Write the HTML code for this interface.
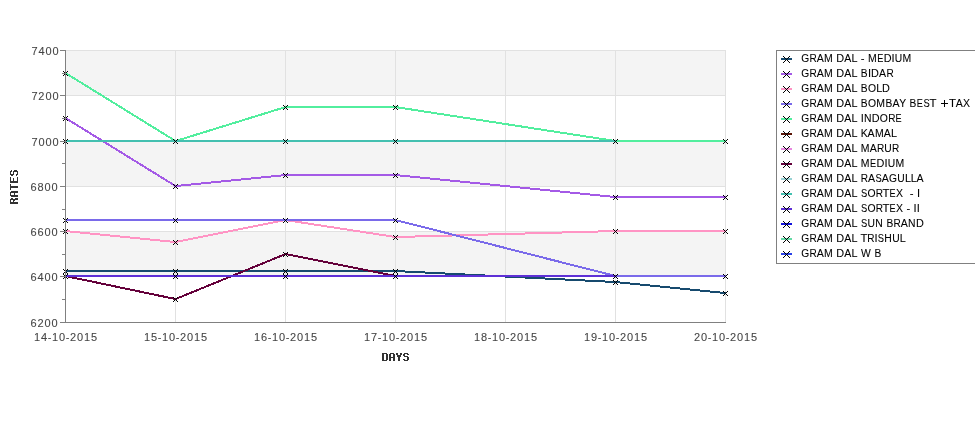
<!DOCTYPE html><html><head><meta charset="utf-8"><style>html,body{margin:0;padding:0;background:#fff;width:975px;height:429px;overflow:hidden}svg{display:block;will-change:transform}</style></head><body>
<svg width="975" height="429" viewBox="0 0 975 429">
<rect x="0" y="0" width="975" height="429" fill="#ffffff"/>
<rect x="66" y="51" width="660" height="44" fill="#f4f4f4" shape-rendering="crispEdges"/>
<rect x="66" y="142" width="660" height="44" fill="#f4f4f4" shape-rendering="crispEdges"/>
<rect x="66" y="232" width="660" height="44" fill="#f4f4f4" shape-rendering="crispEdges"/>
<rect x="66" y="50" width="660" height="1" fill="#e1e1e1" shape-rendering="crispEdges"/>
<rect x="66" y="95" width="660" height="1" fill="#e1e1e1" shape-rendering="crispEdges"/>
<rect x="66" y="141" width="660" height="1" fill="#e1e1e1" shape-rendering="crispEdges"/>
<rect x="66" y="186" width="660" height="1" fill="#e1e1e1" shape-rendering="crispEdges"/>
<rect x="66" y="231" width="660" height="1" fill="#e1e1e1" shape-rendering="crispEdges"/>
<rect x="66" y="276" width="660" height="1" fill="#e1e1e1" shape-rendering="crispEdges"/>
<rect x="175" y="50" width="1" height="272" fill="#e1e1e1" shape-rendering="crispEdges"/>
<rect x="285" y="50" width="1" height="272" fill="#e1e1e1" shape-rendering="crispEdges"/>
<rect x="395" y="50" width="1" height="272" fill="#e1e1e1" shape-rendering="crispEdges"/>
<rect x="505" y="50" width="1" height="272" fill="#e1e1e1" shape-rendering="crispEdges"/>
<rect x="615" y="50" width="1" height="272" fill="#e1e1e1" shape-rendering="crispEdges"/>
<rect x="725" y="50" width="1" height="272" fill="#e1e1e1" shape-rendering="crispEdges"/>
<g fill="none" stroke-width="2" shape-rendering="crispEdges" stroke-linecap="butt" stroke-linejoin="miter" transform="translate(0.52,0.04)">
<path d="M65 271 L175 271 L285 271 L395 271 L615 282 L725 293" stroke="#164a6e"/>
<path d="M65 118 L175 186 L285 175 L395 175 L615 197 L725 197" stroke="#a45ae6"/>
<path d="M65 231 L175 242 L285 220 L395 237 L615 231 L725 231" stroke="#ff94c4"/>
<path d="M65 220 L175 220 L285 220 L395 220 L615 276 L725 276" stroke="#7a6aea"/>
<path d="M65 73 L175 141 L285 107 L395 107 L615 141 L725 141" stroke="#52ee9e"/>
<path d="M65 276 L175 299 L285 254 L395 276" stroke="#5a1406"/>
<path d="M65 276 L175 299 L285 254 L395 276" stroke="#64003a"/>
<path d="M65 141 L175 141 L285 141 L395 141 L615 141" stroke="#44c0b0"/>
<path d="M65 276 L175 276 L285 276 L395 276 L615 276" stroke="#5e30d6"/>
</g>
<g fill="none" stroke="#000" stroke-width="1" shape-rendering="crispEdges">
<path d="M63 269.0 L68 274.0 M63 274.0 L68 269.0 M173 269.0 L178 274.0 M173 274.0 L178 269.0 M283 269.0 L288 274.0 M283 274.0 L288 269.0 M393 269.0 L398 274.0 M393 274.0 L398 269.0 M613 280.0 L618 285.0 M613 285.0 L618 280.0 M723 291.0 L728 296.0 M723 296.0 L728 291.0 M63 116.0 L68 121.0 M63 121.0 L68 116.0 M173 184.0 L178 189.0 M173 189.0 L178 184.0 M283 173.0 L288 178.0 M283 178.0 L288 173.0 M393 173.0 L398 178.0 M393 178.0 L398 173.0 M613 195.0 L618 200.0 M613 200.0 L618 195.0 M723 195.0 L728 200.0 M723 200.0 L728 195.0 M63 229.0 L68 234.0 M63 234.0 L68 229.0 M173 240.0 L178 245.0 M173 245.0 L178 240.0 M283 218.0 L288 223.0 M283 223.0 L288 218.0 M393 235.0 L398 240.0 M393 240.0 L398 235.0 M613 229.0 L618 234.0 M613 234.0 L618 229.0 M723 229.0 L728 234.0 M723 234.0 L728 229.0 M63 218.0 L68 223.0 M63 223.0 L68 218.0 M173 218.0 L178 223.0 M173 223.0 L178 218.0 M283 218.0 L288 223.0 M283 223.0 L288 218.0 M393 218.0 L398 223.0 M393 223.0 L398 218.0 M613 274.0 L618 279.0 M613 279.0 L618 274.0 M723 274.0 L728 279.0 M723 279.0 L728 274.0 M63 71.0 L68 76.0 M63 76.0 L68 71.0 M173 139.0 L178 144.0 M173 144.0 L178 139.0 M283 105.0 L288 110.0 M283 110.0 L288 105.0 M393 105.0 L398 110.0 M393 110.0 L398 105.0 M613 139.0 L618 144.0 M613 144.0 L618 139.0 M723 139.0 L728 144.0 M723 144.0 L728 139.0 M63 274.0 L68 279.0 M63 279.0 L68 274.0 M173 297.0 L178 302.0 M173 302.0 L178 297.0 M283 252.0 L288 257.0 M283 257.0 L288 252.0 M393 274.0 L398 279.0 M393 279.0 L398 274.0 M63 274.0 L68 279.0 M63 279.0 L68 274.0 M173 297.0 L178 302.0 M173 302.0 L178 297.0 M283 252.0 L288 257.0 M283 257.0 L288 252.0 M393 274.0 L398 279.0 M393 279.0 L398 274.0 M63 139.0 L68 144.0 M63 144.0 L68 139.0 M173 139.0 L178 144.0 M173 144.0 L178 139.0 M283 139.0 L288 144.0 M283 144.0 L288 139.0 M393 139.0 L398 144.0 M393 144.0 L398 139.0 M613 139.0 L618 144.0 M613 144.0 L618 139.0 M63 274.0 L68 279.0 M63 279.0 L68 274.0 M173 274.0 L178 279.0 M173 279.0 L178 274.0 M283 274.0 L288 279.0 M283 279.0 L288 274.0 M393 274.0 L398 279.0 M393 279.0 L398 274.0 M613 274.0 L618 279.0 M613 279.0 L618 274.0"/>
</g>
<rect x="65" y="50" width="1" height="273" fill="#808080" shape-rendering="crispEdges"/>
<rect x="65" y="322" width="661" height="1" fill="#808080" shape-rendering="crispEdges"/>
<rect x="60" y="50" width="5" height="1" fill="#808080" shape-rendering="crispEdges"/>
<rect x="60" y="95" width="5" height="1" fill="#808080" shape-rendering="crispEdges"/>
<rect x="60" y="141" width="5" height="1" fill="#808080" shape-rendering="crispEdges"/>
<rect x="60" y="186" width="5" height="1" fill="#808080" shape-rendering="crispEdges"/>
<rect x="60" y="231" width="5" height="1" fill="#808080" shape-rendering="crispEdges"/>
<rect x="60" y="276" width="5" height="1" fill="#808080" shape-rendering="crispEdges"/>
<rect x="60" y="322" width="5" height="1" fill="#808080" shape-rendering="crispEdges"/>
<rect x="62" y="73" width="3" height="1" fill="#808080" shape-rendering="crispEdges"/>
<rect x="62" y="118" width="3" height="1" fill="#808080" shape-rendering="crispEdges"/>
<rect x="62" y="163" width="3" height="1" fill="#808080" shape-rendering="crispEdges"/>
<rect x="62" y="209" width="3" height="1" fill="#808080" shape-rendering="crispEdges"/>
<rect x="62" y="254" width="3" height="1" fill="#808080" shape-rendering="crispEdges"/>
<rect x="62" y="299" width="3" height="1" fill="#808080" shape-rendering="crispEdges"/>
<text x="31.42 38.44 45.44 52.44" y="54.5" font-family="Liberation Sans, sans-serif" font-size="11" fill="#444444" stroke="#444444" stroke-width="0.08">7400</text>
<text x="31.42 38.29 45.44 52.44" y="99.5" font-family="Liberation Sans, sans-serif" font-size="11" fill="#444444" stroke="#444444" stroke-width="0.08">7200</text>
<text x="31.42 38.44 45.44 52.44" y="145.5" font-family="Liberation Sans, sans-serif" font-size="11" fill="#444444" stroke="#444444" stroke-width="0.08">7000</text>
<text x="30.54 37.54 44.54 51.54" y="190.5" font-family="Liberation Sans, sans-serif" font-size="11" fill="#444444" stroke="#444444" stroke-width="0.08">6800</text>
<text x="30.54 37.54 44.54 51.54" y="235.5" font-family="Liberation Sans, sans-serif" font-size="11" fill="#444444" stroke="#444444" stroke-width="0.08">6600</text>
<text x="30.54 37.54 44.54 51.54" y="280.5" font-family="Liberation Sans, sans-serif" font-size="11" fill="#444444" stroke="#444444" stroke-width="0.08">6400</text>
<text x="30.54 37.39 44.54 51.54" y="326.5" font-family="Liberation Sans, sans-serif" font-size="11" fill="#444444" stroke="#444444" stroke-width="0.08">6200</text>
<text x="33.99 41.04 47.75 51.99 59.04 65.75 69.89 77.04 83.99 90.99" y="341" font-family="Liberation Sans, sans-serif" font-size="11" fill="#444444" stroke="#444444" stroke-width="0.08">14-10-2015</text>
<text x="143.99 150.99 157.75 161.99 169.04 175.75 179.89 187.04 193.99 200.99" y="341" font-family="Liberation Sans, sans-serif" font-size="11" fill="#444444" stroke="#444444" stroke-width="0.08">15-10-2015</text>
<text x="253.99 261.04 267.75 271.99 279.04 285.75 289.89 297.04 303.99 310.99" y="341" font-family="Liberation Sans, sans-serif" font-size="11" fill="#444444" stroke="#444444" stroke-width="0.08">16-10-2015</text>
<text x="363.99 371.02 377.75 381.99 389.04 395.75 399.89 407.04 413.99 420.99" y="341" font-family="Liberation Sans, sans-serif" font-size="11" fill="#444444" stroke="#444444" stroke-width="0.08">17-10-2015</text>
<text x="473.99 481.04 487.75 491.99 499.04 505.75 509.89 517.04 523.99 530.99" y="341" font-family="Liberation Sans, sans-serif" font-size="11" fill="#444444" stroke="#444444" stroke-width="0.08">18-10-2015</text>
<text x="583.99 591.0 597.75 601.99 609.04 615.75 619.89 627.04 633.99 640.99" y="341" font-family="Liberation Sans, sans-serif" font-size="11" fill="#444444" stroke="#444444" stroke-width="0.08">19-10-2015</text>
<text x="693.89 701.04 707.75 711.99 719.04 725.75 729.89 737.04 743.99 750.99" y="341" font-family="Liberation Sans, sans-serif" font-size="11" fill="#444444" stroke="#444444" stroke-width="0.08">20-10-2015</text>
<path d="M382 353h1v1h-1z M383 353h1v1h-1z M384 353h1v1h-1z M385 353h1v1h-1z M386 353h1v1h-1z M382 354h1v1h-1z M383 354h1v1h-1z M386 354h1v1h-1z M387 354h1v1h-1z M382 355h1v1h-1z M383 355h1v1h-1z M386 355h1v1h-1z M387 355h1v1h-1z M382 356h1v1h-1z M383 356h1v1h-1z M386 356h1v1h-1z M387 356h1v1h-1z M382 357h1v1h-1z M383 357h1v1h-1z M386 357h1v1h-1z M387 357h1v1h-1z M382 358h1v1h-1z M383 358h1v1h-1z M386 358h1v1h-1z M387 358h1v1h-1z M382 359h1v1h-1z M383 359h1v1h-1z M386 359h1v1h-1z M387 359h1v1h-1z M382 360h1v1h-1z M383 360h1v1h-1z M384 360h1v1h-1z M385 360h1v1h-1z M386 360h1v1h-1z M390 353h1v1h-1z M391 353h1v1h-1z M392 353h1v1h-1z M393 353h1v1h-1z M389 354h1v1h-1z M390 354h1v1h-1z M393 354h1v1h-1z M394 354h1v1h-1z M389 355h1v1h-1z M390 355h1v1h-1z M393 355h1v1h-1z M394 355h1v1h-1z M389 356h1v1h-1z M390 356h1v1h-1z M393 356h1v1h-1z M394 356h1v1h-1z M389 357h1v1h-1z M390 357h1v1h-1z M391 357h1v1h-1z M392 357h1v1h-1z M393 357h1v1h-1z M394 357h1v1h-1z M389 358h1v1h-1z M390 358h1v1h-1z M393 358h1v1h-1z M394 358h1v1h-1z M389 359h1v1h-1z M390 359h1v1h-1z M393 359h1v1h-1z M394 359h1v1h-1z M389 360h1v1h-1z M390 360h1v1h-1z M393 360h1v1h-1z M394 360h1v1h-1z M396 353h1v1h-1z M397 353h1v1h-1z M400 353h1v1h-1z M401 353h1v1h-1z M396 354h1v1h-1z M397 354h1v1h-1z M400 354h1v1h-1z M401 354h1v1h-1z M397 355h1v1h-1z M398 355h1v1h-1z M399 355h1v1h-1z M400 355h1v1h-1z M397 356h1v1h-1z M398 356h1v1h-1z M399 356h1v1h-1z M400 356h1v1h-1z M398 357h1v1h-1z M399 357h1v1h-1z M398 358h1v1h-1z M399 358h1v1h-1z M398 359h1v1h-1z M399 359h1v1h-1z M398 360h1v1h-1z M399 360h1v1h-1z M404 353h1v1h-1z M405 353h1v1h-1z M406 353h1v1h-1z M407 353h1v1h-1z M403 354h1v1h-1z M404 354h1v1h-1z M407 354h1v1h-1z M408 354h1v1h-1z M403 355h1v1h-1z M404 355h1v1h-1z M404 356h1v1h-1z M405 356h1v1h-1z M406 356h1v1h-1z M407 356h1v1h-1z M407 357h1v1h-1z M408 357h1v1h-1z M407 358h1v1h-1z M408 358h1v1h-1z M403 359h1v1h-1z M404 359h1v1h-1z M407 359h1v1h-1z M408 359h1v1h-1z M404 360h1v1h-1z M405 360h1v1h-1z M406 360h1v1h-1z M407 360h1v1h-1z" fill="#333" shape-rendering="crispEdges"/>
<path d="M10 203h1v1h-1z M10 202h1v1h-1z M10 201h1v1h-1z M10 200h1v1h-1z M10 199h1v1h-1z M11 203h1v1h-1z M11 202h1v1h-1z M11 199h1v1h-1z M11 198h1v1h-1z M12 203h1v1h-1z M12 202h1v1h-1z M12 199h1v1h-1z M12 198h1v1h-1z M13 203h1v1h-1z M13 202h1v1h-1z M13 201h1v1h-1z M13 200h1v1h-1z M13 199h1v1h-1z M14 203h1v1h-1z M14 202h1v1h-1z M14 200h1v1h-1z M14 199h1v1h-1z M15 203h1v1h-1z M15 202h1v1h-1z M15 199h1v1h-1z M15 198h1v1h-1z M16 203h1v1h-1z M16 202h1v1h-1z M16 199h1v1h-1z M16 198h1v1h-1z M17 203h1v1h-1z M17 202h1v1h-1z M17 199h1v1h-1z M17 198h1v1h-1z M10 195h1v1h-1z M10 194h1v1h-1z M10 193h1v1h-1z M10 192h1v1h-1z M11 196h1v1h-1z M11 195h1v1h-1z M11 192h1v1h-1z M11 191h1v1h-1z M12 196h1v1h-1z M12 195h1v1h-1z M12 192h1v1h-1z M12 191h1v1h-1z M13 196h1v1h-1z M13 195h1v1h-1z M13 192h1v1h-1z M13 191h1v1h-1z M14 196h1v1h-1z M14 195h1v1h-1z M14 194h1v1h-1z M14 193h1v1h-1z M14 192h1v1h-1z M14 191h1v1h-1z M15 196h1v1h-1z M15 195h1v1h-1z M15 192h1v1h-1z M15 191h1v1h-1z M16 196h1v1h-1z M16 195h1v1h-1z M16 192h1v1h-1z M16 191h1v1h-1z M17 196h1v1h-1z M17 195h1v1h-1z M17 192h1v1h-1z M17 191h1v1h-1z M10 189h1v1h-1z M10 188h1v1h-1z M10 187h1v1h-1z M10 186h1v1h-1z M10 185h1v1h-1z M10 184h1v1h-1z M11 187h1v1h-1z M11 186h1v1h-1z M12 187h1v1h-1z M12 186h1v1h-1z M13 187h1v1h-1z M13 186h1v1h-1z M14 187h1v1h-1z M14 186h1v1h-1z M15 187h1v1h-1z M15 186h1v1h-1z M16 187h1v1h-1z M16 186h1v1h-1z M17 187h1v1h-1z M17 186h1v1h-1z M10 182h1v1h-1z M10 181h1v1h-1z M10 180h1v1h-1z M10 179h1v1h-1z M10 178h1v1h-1z M10 177h1v1h-1z M11 182h1v1h-1z M11 181h1v1h-1z M12 182h1v1h-1z M12 181h1v1h-1z M13 182h1v1h-1z M13 181h1v1h-1z M13 180h1v1h-1z M13 179h1v1h-1z M13 178h1v1h-1z M14 182h1v1h-1z M14 181h1v1h-1z M15 182h1v1h-1z M15 181h1v1h-1z M16 182h1v1h-1z M16 181h1v1h-1z M17 182h1v1h-1z M17 181h1v1h-1z M17 180h1v1h-1z M17 179h1v1h-1z M17 178h1v1h-1z M17 177h1v1h-1z M10 174h1v1h-1z M10 173h1v1h-1z M10 172h1v1h-1z M10 171h1v1h-1z M11 175h1v1h-1z M11 174h1v1h-1z M11 171h1v1h-1z M11 170h1v1h-1z M12 175h1v1h-1z M12 174h1v1h-1z M13 174h1v1h-1z M13 173h1v1h-1z M13 172h1v1h-1z M13 171h1v1h-1z M14 171h1v1h-1z M14 170h1v1h-1z M15 171h1v1h-1z M15 170h1v1h-1z M16 175h1v1h-1z M16 174h1v1h-1z M16 171h1v1h-1z M16 170h1v1h-1z M17 174h1v1h-1z M17 173h1v1h-1z M17 172h1v1h-1z M17 171h1v1h-1z" fill="#333" shape-rendering="crispEdges"/>
<rect x="776.5" y="50.5" width="300" height="213" fill="#fff" stroke="#808080" stroke-width="1"/>
<rect x="781" y="58" width="11" height="2" fill="#164a6e" shape-rendering="crispEdges"/>
<path d="M783 56 L790 63 M783 63 L790 56" stroke="#000" stroke-width="1" fill="none" shape-rendering="crispEdges"/>
<g font-family="Liberation Sans, sans-serif" font-size="11" fill="#000" stroke="#000" stroke-width="0.08"><text transform="translate(801.27,62) scale(0.931,1)">G</text><text transform="translate(809.54,62) scale(0.913,1)">R</text><text transform="translate(816.69,62) scale(0.962,1)">A</text><text transform="translate(823.99,62) scale(0.952,1)">M</text><text transform="translate(836.35,62) scale(0.988,1)">D</text><text transform="translate(844.36,62) scale(0.962,1)">A</text><text transform="translate(851.62,62) scale(0.982,1)">L</text><text transform="translate(860.68,62) scale(1.029,1)">-</text><text transform="translate(867.97,62) scale(0.952,1)">M</text><text transform="translate(877.14,62) scale(0.827,1)">E</text><text transform="translate(883.63,62) scale(0.988,1)">D</text><text transform="translate(891.58,62) scale(1.010,1)">I</text><text transform="translate(894.79,62) scale(0.938,1)">U</text><text transform="translate(902.53,62) scale(0.952,1)">M</text></g>
<rect x="781" y="73" width="11" height="2" fill="#a45ae6" shape-rendering="crispEdges"/>
<path d="M783 71 L790 78 M783 78 L790 71" stroke="#000" stroke-width="1" fill="none" shape-rendering="crispEdges"/>
<g font-family="Liberation Sans, sans-serif" font-size="11" fill="#000" stroke="#000" stroke-width="0.08"><text transform="translate(801.27,77) scale(0.931,1)">G</text><text transform="translate(809.54,77) scale(0.913,1)">R</text><text transform="translate(816.69,77) scale(0.962,1)">A</text><text transform="translate(823.99,77) scale(0.952,1)">M</text><text transform="translate(836.35,77) scale(0.988,1)">D</text><text transform="translate(844.36,77) scale(0.962,1)">A</text><text transform="translate(851.62,77) scale(0.982,1)">L</text><text transform="translate(860.86,77) scale(0.927,1)">B</text><text transform="translate(867.88,77) scale(1.010,1)">I</text><text transform="translate(871.11,77) scale(0.988,1)">D</text><text transform="translate(879.11,77) scale(0.962,1)">A</text><text transform="translate(886.44,77) scale(0.913,1)">R</text></g>
<rect x="781" y="88" width="11" height="2" fill="#ff94c4" shape-rendering="crispEdges"/>
<path d="M783 86 L790 93 M783 93 L790 86" stroke="#000" stroke-width="1" fill="none" shape-rendering="crispEdges"/>
<g font-family="Liberation Sans, sans-serif" font-size="11" fill="#000" stroke="#000" stroke-width="0.08"><text transform="translate(801.27,92) scale(0.931,1)">G</text><text transform="translate(809.54,92) scale(0.913,1)">R</text><text transform="translate(816.69,92) scale(0.962,1)">A</text><text transform="translate(823.99,92) scale(0.952,1)">M</text><text transform="translate(836.35,92) scale(0.988,1)">D</text><text transform="translate(844.36,92) scale(0.962,1)">A</text><text transform="translate(851.62,92) scale(0.982,1)">L</text><text transform="translate(860.86,92) scale(0.927,1)">B</text><text transform="translate(867.97,92) scale(0.944,1)">O</text><text transform="translate(876.28,92) scale(0.982,1)">L</text><text transform="translate(882.12,92) scale(0.988,1)">D</text></g>
<rect x="781" y="103" width="11" height="2" fill="#7a6aea" shape-rendering="crispEdges"/>
<path d="M783 101 L790 108 M783 108 L790 101" stroke="#000" stroke-width="1" fill="none" shape-rendering="crispEdges"/>
<g font-family="Liberation Sans, sans-serif" font-size="11" fill="#000" stroke="#000" stroke-width="0.08"><text transform="translate(801.27,107) scale(0.931,1)">G</text><text transform="translate(809.54,107) scale(0.913,1)">R</text><text transform="translate(816.69,107) scale(0.962,1)">A</text><text transform="translate(823.99,107) scale(0.952,1)">M</text><text transform="translate(836.35,107) scale(0.988,1)">D</text><text transform="translate(844.36,107) scale(0.962,1)">A</text><text transform="translate(851.62,107) scale(0.982,1)">L</text><text transform="translate(860.86,107) scale(0.927,1)">B</text><text transform="translate(867.97,107) scale(0.944,1)">O</text><text transform="translate(876.31,107) scale(0.952,1)">M</text><text transform="translate(885.39,107) scale(0.927,1)">B</text><text transform="translate(892.46,107) scale(0.962,1)">A</text><text transform="translate(899.33,107) scale(0.942,1)">Y</text><text transform="translate(909.53,107) scale(0.927,1)">B</text><text transform="translate(916.82,107) scale(0.827,1)">E</text><text transform="translate(923.44,107) scale(0.851,1)">S</text><text transform="translate(929.55,107) scale(1.041,1)">T</text><text transform="translate(949.10,107) scale(1.041,1)">T</text><text transform="translate(955.86,107) scale(0.962,1)">A</text><text transform="translate(963.06,107) scale(0.955,1)">X</text></g>
<path d="M941 103h7v1h-7z M944 100h1v7h-1z" fill="#000" shape-rendering="crispEdges"/>
<rect x="781" y="118" width="11" height="2" fill="#52ee9e" shape-rendering="crispEdges"/>
<path d="M783 116 L790 123 M783 123 L790 116" stroke="#000" stroke-width="1" fill="none" shape-rendering="crispEdges"/>
<g font-family="Liberation Sans, sans-serif" font-size="11" fill="#000" stroke="#000" stroke-width="0.08"><text transform="translate(801.27,122) scale(0.931,1)">G</text><text transform="translate(809.54,122) scale(0.913,1)">R</text><text transform="translate(816.69,122) scale(0.962,1)">A</text><text transform="translate(823.99,122) scale(0.952,1)">M</text><text transform="translate(836.35,122) scale(0.988,1)">D</text><text transform="translate(844.36,122) scale(0.962,1)">A</text><text transform="translate(851.62,122) scale(0.982,1)">L</text><text transform="translate(860.67,122) scale(1.010,1)">I</text><text transform="translate(863.94,122) scale(0.943,1)">N</text><text transform="translate(871.76,122) scale(0.988,1)">D</text><text transform="translate(879.80,122) scale(0.944,1)">O</text><text transform="translate(888.18,122) scale(0.913,1)">R</text><text transform="translate(895.55,122) scale(0.827,1)">E</text></g>
<rect x="781" y="133" width="11" height="2" fill="#5a1406" shape-rendering="crispEdges"/>
<path d="M783 131 L790 138 M783 138 L790 131" stroke="#000" stroke-width="1" fill="none" shape-rendering="crispEdges"/>
<g font-family="Liberation Sans, sans-serif" font-size="11" fill="#000" stroke="#000" stroke-width="0.08"><text transform="translate(801.27,137) scale(0.931,1)">G</text><text transform="translate(809.54,137) scale(0.913,1)">R</text><text transform="translate(816.69,137) scale(0.962,1)">A</text><text transform="translate(823.99,137) scale(0.952,1)">M</text><text transform="translate(836.35,137) scale(0.988,1)">D</text><text transform="translate(844.36,137) scale(0.962,1)">A</text><text transform="translate(851.62,137) scale(0.982,1)">L</text><text transform="translate(860.83,137) scale(0.963,1)">K</text><text transform="translate(867.61,137) scale(0.962,1)">A</text><text transform="translate(874.91,137) scale(0.952,1)">M</text><text transform="translate(883.86,137) scale(0.962,1)">A</text><text transform="translate(891.12,137) scale(0.982,1)">L</text></g>
<rect x="781" y="148" width="11" height="2" fill="#e888e0" shape-rendering="crispEdges"/>
<path d="M783 146 L790 153 M783 153 L790 146" stroke="#000" stroke-width="1" fill="none" shape-rendering="crispEdges"/>
<g font-family="Liberation Sans, sans-serif" font-size="11" fill="#000" stroke="#000" stroke-width="0.08"><text transform="translate(801.27,152) scale(0.931,1)">G</text><text transform="translate(809.54,152) scale(0.913,1)">R</text><text transform="translate(816.69,152) scale(0.962,1)">A</text><text transform="translate(823.99,152) scale(0.952,1)">M</text><text transform="translate(836.35,152) scale(0.988,1)">D</text><text transform="translate(844.36,152) scale(0.962,1)">A</text><text transform="translate(851.62,152) scale(0.982,1)">L</text><text transform="translate(860.84,152) scale(0.952,1)">M</text><text transform="translate(869.79,152) scale(0.962,1)">A</text><text transform="translate(877.12,152) scale(0.913,1)">R</text><text transform="translate(884.32,152) scale(0.938,1)">U</text><text transform="translate(892.10,152) scale(0.913,1)">R</text></g>
<rect x="781" y="163" width="11" height="2" fill="#64003a" shape-rendering="crispEdges"/>
<path d="M783 161 L790 168 M783 168 L790 161" stroke="#000" stroke-width="1" fill="none" shape-rendering="crispEdges"/>
<g font-family="Liberation Sans, sans-serif" font-size="11" fill="#000" stroke="#000" stroke-width="0.08"><text transform="translate(801.27,167) scale(0.931,1)">G</text><text transform="translate(809.54,167) scale(0.913,1)">R</text><text transform="translate(816.69,167) scale(0.962,1)">A</text><text transform="translate(823.99,167) scale(0.952,1)">M</text><text transform="translate(836.35,167) scale(0.988,1)">D</text><text transform="translate(844.36,167) scale(0.962,1)">A</text><text transform="translate(851.62,167) scale(0.982,1)">L</text><text transform="translate(860.84,167) scale(0.952,1)">M</text><text transform="translate(870.01,167) scale(0.827,1)">E</text><text transform="translate(876.50,167) scale(0.988,1)">D</text><text transform="translate(884.45,167) scale(1.010,1)">I</text><text transform="translate(887.66,167) scale(0.938,1)">U</text><text transform="translate(895.40,167) scale(0.952,1)">M</text></g>
<rect x="781" y="178" width="11" height="2" fill="#98d2d4" shape-rendering="crispEdges"/>
<path d="M783 176 L790 183 M783 183 L790 176" stroke="#000" stroke-width="1" fill="none" shape-rendering="crispEdges"/>
<g font-family="Liberation Sans, sans-serif" font-size="11" fill="#000" stroke="#000" stroke-width="0.08"><text transform="translate(801.27,182) scale(0.931,1)">G</text><text transform="translate(809.54,182) scale(0.913,1)">R</text><text transform="translate(816.69,182) scale(0.962,1)">A</text><text transform="translate(823.99,182) scale(0.952,1)">M</text><text transform="translate(836.35,182) scale(0.988,1)">D</text><text transform="translate(844.36,182) scale(0.962,1)">A</text><text transform="translate(851.62,182) scale(0.982,1)">L</text><text transform="translate(860.87,182) scale(0.913,1)">R</text><text transform="translate(868.02,182) scale(0.962,1)">A</text><text transform="translate(875.41,182) scale(0.851,1)">S</text><text transform="translate(881.87,182) scale(0.962,1)">A</text><text transform="translate(889.07,182) scale(0.931,1)">G</text><text transform="translate(897.25,182) scale(0.938,1)">U</text><text transform="translate(904.96,182) scale(0.982,1)">L</text><text transform="translate(910.81,182) scale(0.982,1)">L</text><text transform="translate(916.58,182) scale(0.962,1)">A</text></g>
<rect x="781" y="193" width="11" height="2" fill="#44c0b0" shape-rendering="crispEdges"/>
<path d="M783 191 L790 198 M783 198 L790 191" stroke="#000" stroke-width="1" fill="none" shape-rendering="crispEdges"/>
<g font-family="Liberation Sans, sans-serif" font-size="11" fill="#000" stroke="#000" stroke-width="0.08"><text transform="translate(801.27,197) scale(0.931,1)">G</text><text transform="translate(809.54,197) scale(0.913,1)">R</text><text transform="translate(816.69,197) scale(0.962,1)">A</text><text transform="translate(823.99,197) scale(0.952,1)">M</text><text transform="translate(836.35,197) scale(0.988,1)">D</text><text transform="translate(844.36,197) scale(0.962,1)">A</text><text transform="translate(851.62,197) scale(0.982,1)">L</text><text transform="translate(860.93,197) scale(0.851,1)">S</text><text transform="translate(867.43,197) scale(0.944,1)">O</text><text transform="translate(875.80,197) scale(0.913,1)">R</text><text transform="translate(882.60,197) scale(1.041,1)">T</text><text transform="translate(889.59,197) scale(0.827,1)">E</text><text transform="translate(896.02,197) scale(0.955,1)">X</text><text transform="translate(909.82,197) scale(1.029,1)">-</text><text transform="translate(916.94,197) scale(1.010,1)">I</text></g>
<rect x="781" y="208" width="11" height="2" fill="#5e30d6" shape-rendering="crispEdges"/>
<path d="M783 206 L790 213 M783 213 L790 206" stroke="#000" stroke-width="1" fill="none" shape-rendering="crispEdges"/>
<g font-family="Liberation Sans, sans-serif" font-size="11" fill="#000" stroke="#000" stroke-width="0.08"><text transform="translate(801.27,212) scale(0.931,1)">G</text><text transform="translate(809.54,212) scale(0.913,1)">R</text><text transform="translate(816.69,212) scale(0.962,1)">A</text><text transform="translate(823.99,212) scale(0.952,1)">M</text><text transform="translate(836.35,212) scale(0.988,1)">D</text><text transform="translate(844.36,212) scale(0.962,1)">A</text><text transform="translate(851.62,212) scale(0.982,1)">L</text><text transform="translate(860.93,212) scale(0.851,1)">S</text><text transform="translate(867.43,212) scale(0.944,1)">O</text><text transform="translate(875.80,212) scale(0.913,1)">R</text><text transform="translate(882.60,212) scale(1.041,1)">T</text><text transform="translate(889.59,212) scale(0.827,1)">E</text><text transform="translate(896.02,212) scale(0.955,1)">X</text><text transform="translate(906.48,212) scale(1.029,1)">-</text><text transform="translate(913.60,212) scale(1.010,1)">I</text><text transform="translate(916.70,212) scale(1.010,1)">I</text></g>
<rect x="781" y="223" width="11" height="2" fill="#1212dc" shape-rendering="crispEdges"/>
<path d="M783 221 L790 228 M783 228 L790 221" stroke="#000" stroke-width="1" fill="none" shape-rendering="crispEdges"/>
<g font-family="Liberation Sans, sans-serif" font-size="11" fill="#000" stroke="#000" stroke-width="0.08"><text transform="translate(801.27,227) scale(0.931,1)">G</text><text transform="translate(809.54,227) scale(0.913,1)">R</text><text transform="translate(816.69,227) scale(0.962,1)">A</text><text transform="translate(823.99,227) scale(0.952,1)">M</text><text transform="translate(836.35,227) scale(0.988,1)">D</text><text transform="translate(844.36,227) scale(0.962,1)">A</text><text transform="translate(851.62,227) scale(0.982,1)">L</text><text transform="translate(860.93,227) scale(0.851,1)">S</text><text transform="translate(867.45,227) scale(0.938,1)">U</text><text transform="translate(875.20,227) scale(0.943,1)">N</text><text transform="translate(886.40,227) scale(0.927,1)">B</text><text transform="translate(893.62,227) scale(0.913,1)">R</text><text transform="translate(900.77,227) scale(0.962,1)">A</text><text transform="translate(908.07,227) scale(0.943,1)">N</text><text transform="translate(915.89,227) scale(0.988,1)">D</text></g>
<rect x="781" y="238" width="11" height="2" fill="#64daa6" shape-rendering="crispEdges"/>
<path d="M783 236 L790 243 M783 243 L790 236" stroke="#000" stroke-width="1" fill="none" shape-rendering="crispEdges"/>
<g font-family="Liberation Sans, sans-serif" font-size="11" fill="#000" stroke="#000" stroke-width="0.08"><text transform="translate(801.27,242) scale(0.931,1)">G</text><text transform="translate(809.54,242) scale(0.913,1)">R</text><text transform="translate(816.69,242) scale(0.962,1)">A</text><text transform="translate(823.99,242) scale(0.952,1)">M</text><text transform="translate(836.35,242) scale(0.988,1)">D</text><text transform="translate(844.36,242) scale(0.962,1)">A</text><text transform="translate(851.62,242) scale(0.982,1)">L</text><text transform="translate(860.38,242) scale(1.041,1)">T</text><text transform="translate(867.29,242) scale(0.913,1)">R</text><text transform="translate(874.38,242) scale(1.010,1)">I</text><text transform="translate(877.74,242) scale(0.851,1)">S</text><text transform="translate(884.31,242) scale(0.950,1)">H</text><text transform="translate(892.15,242) scale(0.938,1)">U</text><text transform="translate(899.86,242) scale(0.982,1)">L</text></g>
<rect x="781" y="253" width="11" height="2" fill="#2a40e8" shape-rendering="crispEdges"/>
<path d="M783 251 L790 258 M783 258 L790 251" stroke="#000" stroke-width="1" fill="none" shape-rendering="crispEdges"/>
<g font-family="Liberation Sans, sans-serif" font-size="11" fill="#000" stroke="#000" stroke-width="0.08"><text transform="translate(801.27,257) scale(0.931,1)">G</text><text transform="translate(809.54,257) scale(0.913,1)">R</text><text transform="translate(816.69,257) scale(0.962,1)">A</text><text transform="translate(823.99,257) scale(0.952,1)">M</text><text transform="translate(836.35,257) scale(0.988,1)">D</text><text transform="translate(844.36,257) scale(0.962,1)">A</text><text transform="translate(851.62,257) scale(0.982,1)">L</text><text transform="translate(860.97,257) scale(0.941,1)">W</text><text transform="translate(874.58,257) scale(0.927,1)">B</text></g>
</svg></body></html>
